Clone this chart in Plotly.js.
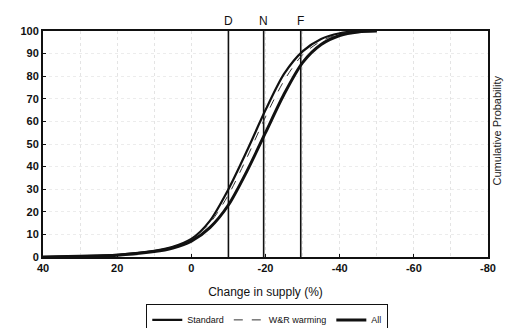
<!DOCTYPE html>
<html>
<head>
<meta charset="utf-8">
<script src="https://cdn.plot.ly/plotly-3.0.1.min.js"></script>
<style>html,body{margin:0;padding:0;background:#fff;}#chart{width:514px;height:328px;}</style>
</head>
<body>
<div id="chart"></div>
<script>
// Change in supply (%) at which cumulative probability is read
const changeSupply = [40, 30, 20, 10, 5, 0, -5, -10, -15, -20, -25, -30, -35, -40, -45, -50];
// Cumulative probability (%) for each series
const standardProb = [0, 0.4, 1, 2.7, 4.5, 8, 16, 30, 47, 65, 81, 91, 96.5, 99, 100, 100];
const warmingProb  = [0, 0.4, 1, 2.6, 4.3, 7.6, 15, 27.5, 44, 62, 78, 89.5, 95.5, 98.7, 99.8, 100];
const allProb      = [0, 0.3, 0.8, 2.4, 4, 7, 13, 23, 38, 55, 72, 86, 94, 98, 99.6, 100];
// Scenario markers
const scenarioNames = ['D', 'N', 'F'];
const scenarioValues = [-10, -19.5, -29.5];
const xTickVals = [40, 20, 0, -20, -40, -60, -80];
const yTickVals = [0, 10, 20, 30, 40, 50, 60, 70, 80, 90, 100];

const FONT = 'Liberation Sans, Arial, sans-serif';

const traces = [];
scenarioNames.forEach((n, i) => {
  traces.push({
    x: [scenarioValues[i], scenarioValues[i]], y: [0, 100],
    mode: 'lines', line: {color: '#111', width: 1.6},
    showlegend: false, hoverinfo: 'skip'
  });
});
traces.push({x: changeSupply, y: standardProb, name: 'Standard', mode: 'lines',
  line: {color: '#111', width: 2.2, shape: 'spline', smoothing: 0.8}});
traces.push({x: changeSupply, y: warmingProb, name: 'W&R warming', mode: 'lines',
  line: {color: '#333', width: 1, dash: 'dash', shape: 'spline', smoothing: 0.8}});
traces.push({x: changeSupply, y: allProb, name: 'All', mode: 'lines',
  line: {color: '#111', width: 3, shape: 'spline', smoothing: 0.8}});

const annotations = scenarioNames.map((n, i) => ({
  x: scenarioValues[i], xref: 'x', y: 1, yref: 'paper', yanchor: 'bottom', yshift: 1,
  text: n, showarrow: false, font: {family: FONT, size: 12, color: '#111'}
}));
annotations.push({
  x: 1, xref: 'paper', xshift: 17, y: 0.56, yref: 'paper',
  text: 'Cumulative Probability', textangle: -90, showarrow: false,
  font: {family: FONT, size: 11, color: '#222'}
});

const layout = {
  width: 514, height: 328,
  margin: {l: 43, r: 26, t: 31, b: 71},
  paper_bgcolor: '#fff', plot_bgcolor: '#fff',
  font: {family: FONT, color: '#111'},
  xaxis: {
    range: [40, -80], tickvals: xTickVals, ticktext: xTickVals.map(String),
    showline: true, linecolor: '#111', linewidth: 2, mirror: true,
    ticks: 'inside', ticklen: 3, tickcolor: '#111',
    showgrid: false, zeroline: false,
    minor: {dtick: 10, showgrid: true, gridcolor: '#e4e4e4', griddash: 'dot', gridwidth: 1},
    tickfont: {family: FONT, size: 11, weight: 'bold', color: '#111'},
    title: {text: 'Change in supply (%)', font: {family: FONT, size: 12, color: '#111'}, standoff: 14}
  },
  yaxis: {
    range: [0, 100], tickvals: yTickVals,
    showline: true, linecolor: '#111', linewidth: 2, mirror: true,
    ticks: 'inside', ticklen: 3, tickcolor: '#111',
    showgrid: true, gridcolor: '#ececec', griddash: 'dot', gridwidth: 1, zeroline: false,
    tickfont: {family: FONT, size: 11, weight: 'bold', color: '#111'}
  },
  showlegend: true,
  legend: {
    orientation: 'h', x: 0.52, xanchor: 'center', xref: 'container',
    y: 0.072, yanchor: 'top', yref: 'container',
    bordercolor: '#111', borderwidth: 1, bgcolor: '#fff',
    font: {family: FONT, size: 9, color: '#111'},
    itemwidth: 30, tracegroupgap: 0
  },
  annotations: annotations
};

Plotly.newPlot('chart', traces, layout, {staticPlot: true, displayModeBar: false});
</script>
</body>
</html>
